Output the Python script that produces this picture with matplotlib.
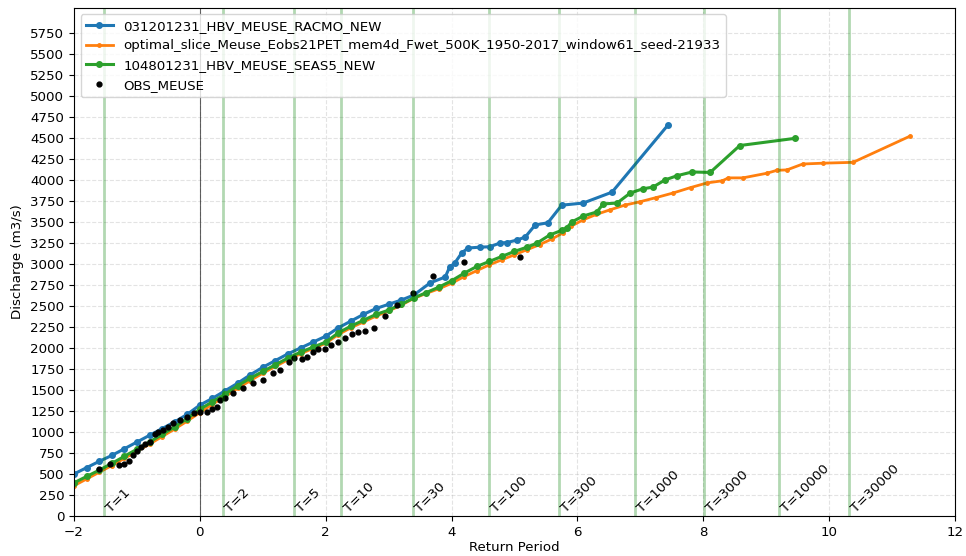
import numpy as np
import matplotlib
matplotlib.use("Agg")
import matplotlib.pyplot as plt

plt.rcParams['font.size'] = 9.6

# annual-maximum discharge vs Gumbel reduced variate, per model run
racmo_x = [-2.00, -1.80, -1.60, -1.40, -1.20, -1.00, -0.80, -0.60, -0.40, -0.20,
           0.00, 0.20, 0.40, 0.60, 0.80, 1.00, 1.20, 1.40, 1.60, 1.80,
           2.00, 2.20, 2.40, 2.60, 2.80, 3.00, 3.20, 3.40, 3.66, 3.90,
           3.97, 4.05, 4.16, 4.26, 4.45, 4.61, 4.77, 4.88, 5.04, 5.17,
           5.33, 5.53, 5.75, 6.09, 6.55, 7.44]
racmo_q = [500, 575, 650, 720, 800, 880, 960, 1040, 1120, 1210,
           1320, 1400, 1490, 1580, 1680, 1770, 1850, 1930, 2000, 2070,
           2140, 2240, 2320, 2400, 2470, 2520, 2570, 2630, 2775, 2845,
           2965, 3010, 3130, 3190, 3200, 3205, 3250, 3255, 3285, 3320,
           3465, 3490, 3700, 3725, 3855, 4655]

eobs_x = [-2.00, -1.80, -1.60, -1.40, -1.20, -1.00, -0.80, -0.60, -0.40, -0.20,
          0.00, 0.20, 0.40, 0.60, 0.80, 1.00, 1.20, 1.40, 1.60, 1.80,
          2.00, 2.20, 2.40, 2.60, 2.80, 3.00, 3.20, 3.40, 3.60, 3.80,
          4.00, 4.20, 4.40, 4.60, 4.80, 5.00, 5.20, 5.40, 5.60, 5.77,
          5.90, 6.09, 6.30, 6.52, 6.75, 6.99, 7.25, 7.52, 7.80, 8.06,
          8.30, 8.40, 8.63, 9.01, 9.17, 9.33, 9.58, 9.90, 10.38, 11.28]
eobs_q = [360, 440, 520, 600, 685, 770, 855, 945, 1035, 1130,
          1230, 1330, 1420, 1520, 1610, 1700, 1780, 1860, 1930, 1995,
          2055, 2160, 2240, 2310, 2380, 2440, 2510, 2590, 2650, 2705,
          2770, 2850, 2920, 2990, 3050, 3110, 3170, 3230, 3300, 3370,
          3450, 3525, 3590, 3645, 3700, 3740, 3790, 3845, 3910, 3965,
          3990, 4025, 4025, 4080, 4115, 4120, 4190, 4200, 4210, 4520]

seas5_x = [-2.00, -1.80, -1.60, -1.40, -1.20, -1.00, -0.80, -0.60, -0.40, -0.20,
           0.00, 0.20, 0.40, 0.60, 0.80, 1.00, 1.20, 1.40, 1.60, 1.80,
           2.00, 2.20, 2.40, 2.60, 2.80, 3.00, 3.20, 3.40, 3.60, 3.80,
           4.00, 4.20, 4.40, 4.60, 4.80, 5.00, 5.20, 5.36, 5.56, 5.75,
           5.83, 5.91, 6.09, 6.31, 6.41, 6.63, 6.84, 7.04, 7.20, 7.39,
           7.58, 7.82, 8.11, 8.58, 9.45]
seas5_q = [395, 470, 545, 625, 710, 795, 880, 970, 1060, 1160,
           1270, 1360, 1450, 1550, 1640, 1720, 1800, 1880, 1950, 2010,
           2070, 2180, 2260, 2330, 2400, 2450, 2520, 2595, 2660, 2725,
           2800, 2890, 2970, 3030, 3090, 3150, 3200, 3250, 3345, 3400,
           3430, 3500, 3570, 3620, 3715, 3725, 3845, 3895, 3915, 4000,
           4050, 4095, 4090, 4410, 4495]

obs_x = [-1.60, -1.42, -1.28, -1.21, -1.12, -1.06, -1.00, -0.94, -0.87, -0.79,
         -0.71, -0.66, -0.58, -0.50, -0.42, -0.32, -0.21, -0.10, 0.00, 0.11,
         0.19, 0.27, 0.32, 0.40, 0.53, 0.69, 0.85, 1.01, 1.17, 1.27,
         1.41, 1.49, 1.62, 1.70, 1.80, 1.88, 1.99, 2.09, 2.20, 2.31,
         2.41, 2.52, 2.62, 2.77, 2.94, 3.13, 3.38, 3.70, 4.19, 5.08]
obs_q = [556, 615, 607, 619, 651, 726, 774, 825, 857, 881,
         976, 1004, 1024, 1063, 1104, 1143, 1182, 1223, 1235, 1241,
         1270, 1294, 1381, 1401, 1461, 1520, 1587, 1619, 1699, 1738,
         1837, 1877, 1865, 1896, 1956, 1984, 1984, 2036, 2075, 2115,
         2163, 2194, 2206, 2234, 2381, 2508, 2651, 2857, 3027, 3087]

# return periods and their position on the reduced-variate axis
periods = [1, 2, 5, 10, 30, 100, 300, 1000, 3000, 10000, 30000]
period_pos = [-1.53, 0.37, 1.50, 2.25, 3.38, 4.60, 5.70, 6.91, 8.01, 9.21, 10.31]

fig = plt.figure(figsize=(9.66, 5.56), dpi=100)
ax = fig.add_axes([0.0766, 0.072, 0.912, 0.914])

ax.plot(racmo_x, racmo_q, '.-', color='tab:blue', lw=2.2, ms=8,
        label='031201231_HBV_MEUSE_RACMO_NEW')
ax.plot(eobs_x, eobs_q, '.-', color='tab:orange', lw=2, ms=5,
        label='optimal_slice_Meuse_Eobs21PET_mem4d_Fwet_500K_1950-2017_window61_seed-21933')
ax.plot(seas5_x, seas5_q, '.-', color='tab:green', lw=2.2, ms=8,
        label='104801231_HBV_MEUSE_SEAS5_NEW')
ax.plot(obs_x, obs_q, '.', color='k', ms=7, label='OBS_MEUSE')

ax.axvline(0, color='k', lw=0.8, alpha=0.6)
for t, xp in zip(periods, period_pos):
    ax.axvline(xp, color='green', lw=2, alpha=0.3)
    ax.text(xp, 15, 'T=%d' % t, rotation=45, ha='left', va='bottom')

ax.set_xlim(-2, 12)
ax.set_ylim(0, 6050)
ax.set_xticks(np.arange(-2, 13, 2))
ax.set_yticks(np.arange(0, 6000, 250))
ax.grid(ls='--', alpha=0.35)
ax.set_xlabel('Return Period', labelpad=2)
ax.set_ylabel('Discharge (m3/s)')
ax.legend(loc='upper left')

fig.savefig('out.png', dpi=100)
